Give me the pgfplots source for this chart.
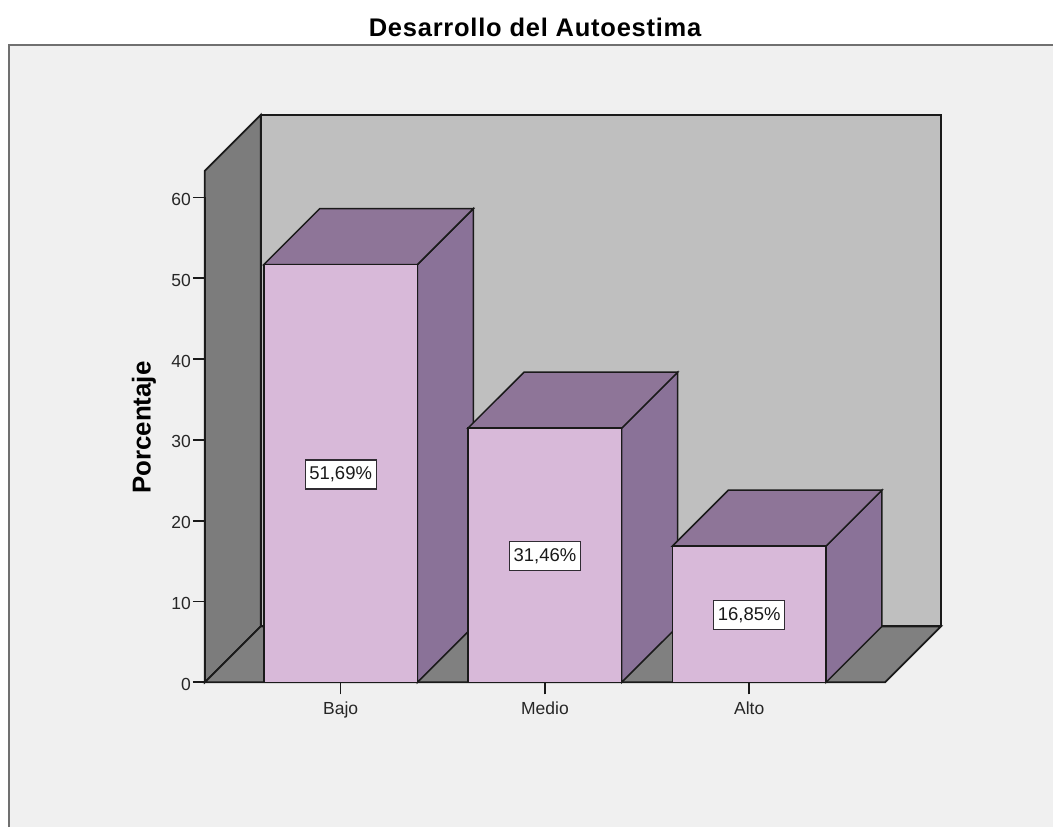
\documentclass[border=0pt]{standalone}
\usepackage{pgfplots}
\pgfplotsset{compat=1.18}
\usepackage{fontspec}
\setmainfont{Liberation Sans}
\definecolor{panelbg}{HTML}{F0F0F0}
\definecolor{panelline}{HTML}{707070}
\definecolor{backwall}{HTML}{BFBFBF}
\definecolor{sidewall}{HTML}{7C7C7C}
\definecolor{floorc}{HTML}{808080}
\definecolor{barfront}{HTML}{D8B9D9}
\definecolor{bartop}{HTML}{8E7598}
\definecolor{barside}{HTML}{8A7298}
\definecolor{edge}{HTML}{1A1A1A}
\begin{document}
\begin{tikzpicture}
\begin{axis}[
  scale only axis, width=681pt, height=485.4pt,
  xmin=-0.665, xmax=2.665, ymin=0, ymax=60,
  clip=false, axis on top,
  axis x line*=bottom, axis y line*=left,
  axis line style={-, edge, line width=1.6pt},
  xtick={0,1,2}, xticklabels={Bajo,Medio,Alto},
  ytick={0,10,20,30,40,50,60},
  tick align=outside, major tick length=12pt,
  tick style={edge, line width=1.7pt},
  /pgf/number format/assume math mode=true,
  tick label style={font=\fontsize{17.5}{19}\selectfont, text=black!85},
  x tick label style={yshift=-4pt},
  y tick label style={xshift=1.5pt, yshift=-2pt},
  title={\fontsize{25.5}{30}\selectfont\bfseries\addfontfeature{LetterSpace=3}Desarrollo del Autoestima},
  title style={at={(axis description cs:0.4855,1.3385)}, anchor=center},
  ylabel={\fontsize{25.9}{28}\selectfont\bfseries Porcentaje},
  every axis y label/.style={at={(axis description cs:-0.0895,0.525)}, rotate=90, anchor=center},
]
  % page extent and surrounding panel
  \path (axis cs:-1.6675,-17.92) rectangle (axis cs:3.487,84.43);
  \fill[panelbg] (axis cs:-1.6235,-17.92) rectangle (axis cs:3.487,78.9);
  \draw[panelline, line width=2pt] (axis cs:-1.6235,-17.92) -- (axis cs:-1.6235,78.9) -- (axis cs:3.487,78.9);

  % chart box: back wall, left wall, floor
  \addplot[draw=edge, line width=1.8pt, fill=backwall] coordinates {(-0.3912,6.92) (2.939,6.92) (2.939,70.22) (-0.3912,70.22)} -- cycle;
  \addplot[draw=edge, line width=1.8pt, fill=sidewall] coordinates {(-0.665,0) (-0.3912,6.92) (-0.3912,70.22) (-0.665,63.3)} -- cycle;
  \addplot[draw=edge, line width=1.8pt, fill=floorc] coordinates {(-0.665,0) (2.665,0) (2.939,6.92) (-0.3912,6.92)} -- cycle;

  % Bajo
  \addplot[draw=edge, line width=1.5pt, fill=barside] coordinates {(0.376,0) (0.6498,6.92) (0.6498,58.61) (0.376,51.69)} -- cycle;
  \addplot[draw=edge, line width=1.5pt, fill=bartop] coordinates {(-0.376,51.69) (0.376,51.69) (0.6498,58.61) (-0.1022,58.61)} -- cycle;
  \addplot[draw=edge, line width=1.5pt, fill=barfront] coordinates {(-0.376,0) (0.376,0) (0.376,51.69) (-0.376,51.69)} -- cycle;
  % Medio
  \addplot[draw=edge, line width=1.5pt, fill=barside] coordinates {(1.376,0) (1.6498,6.92) (1.6498,38.38) (1.376,31.46)} -- cycle;
  \addplot[draw=edge, line width=1.5pt, fill=bartop] coordinates {(0.624,31.46) (1.376,31.46) (1.6498,38.38) (0.8978,38.38)} -- cycle;
  \addplot[draw=edge, line width=1.5pt, fill=barfront] coordinates {(0.624,0) (1.376,0) (1.376,31.46) (0.624,31.46)} -- cycle;
  % Alto
  \addplot[draw=edge, line width=1.5pt, fill=barside] coordinates {(2.376,0) (2.6498,6.92) (2.6498,23.77) (2.376,16.85)} -- cycle;
  \addplot[draw=edge, line width=1.5pt, fill=bartop] coordinates {(1.624,16.85) (2.376,16.85) (2.6498,23.77) (1.8978,23.77)} -- cycle;
  \addplot[draw=edge, line width=1.5pt, fill=barfront] coordinates {(1.624,0) (2.376,0) (2.376,16.85) (1.624,16.85)} -- cycle;

  % value boxes at mid-height of each bar
  \addplot[draw=none, mark=none,
    nodes near coords, point meta=explicit symbolic,
    every node near coord/.style={anchor=center, fill=white, draw=edge!80!barside, line width=1.2pt,
      minimum width=71pt, minimum height=29pt, inner sep=0pt,
      font=\fontsize{18.5}{20}\selectfont, text=black!90, yshift=-1pt}]
    table[x=x, y=y, meta=t, row sep=\\] {
      x y t \\
      0 25.845 51,69\% \\
      1 15.73 31,46\% \\
      2 8.425 16,85\% \\
    };
\end{axis}
\end{tikzpicture}
\end{document}
